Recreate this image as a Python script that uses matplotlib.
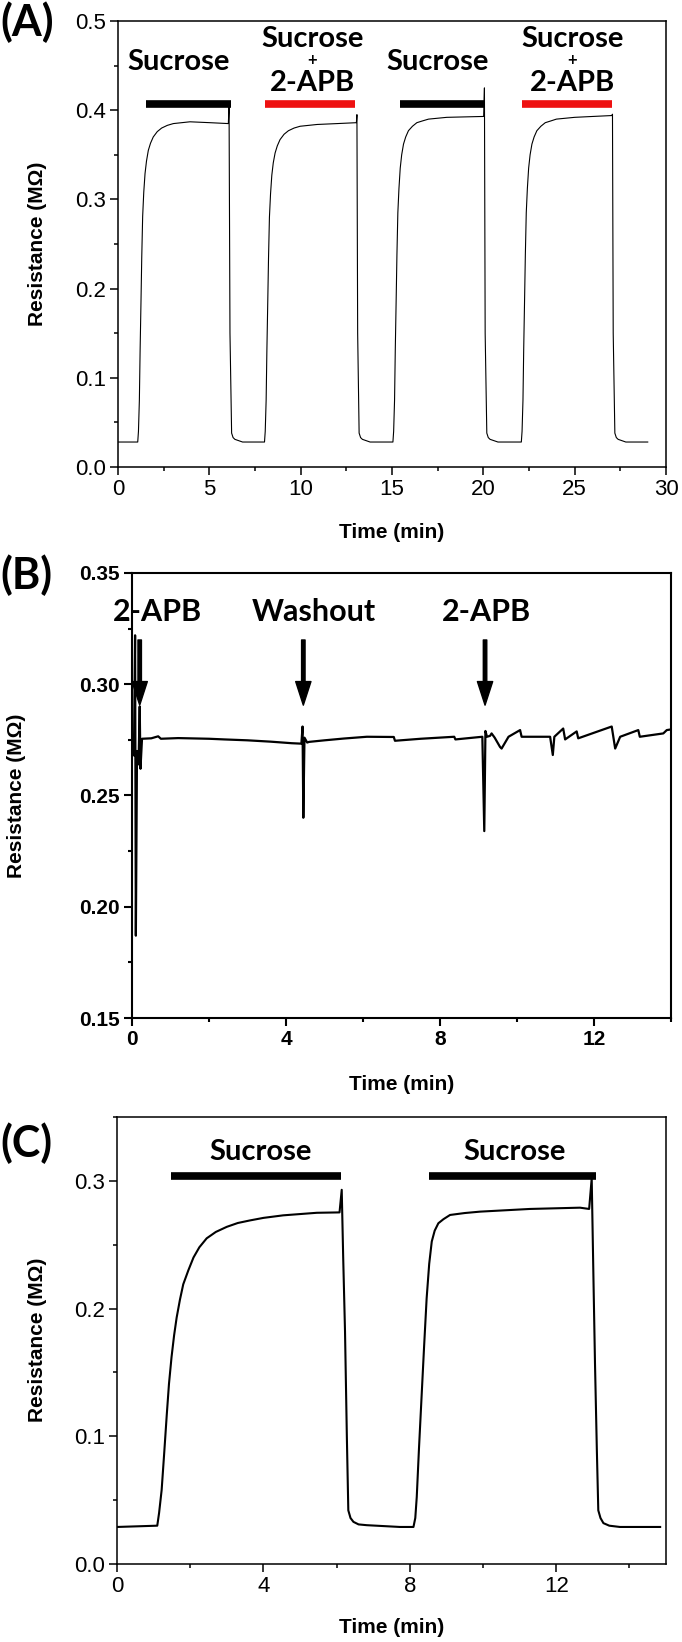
import matplotlib
matplotlib.use('Agg')
import matplotlib.pyplot as plt
from matplotlib.ticker import MultipleLocator, FormatStrFormatter

# ---- Panel A: four pulses, sucrose / sucrose + 2-APB ----
a_time = [0.0, 1.08, 1.12, 1.17, 1.21, 1.26, 1.30, 1.35, 1.41, 1.48, 1.56, 1.66, 1.78, 1.93,
          2.15, 2.39, 2.70, 3.03, 3.94, 5.04, 6.04,
          6.08, 6.13, 6.22, 6.30, 6.40, 6.82, 8.02,
          8.06, 8.11, 8.15, 8.20, 8.24, 8.29, 8.35, 8.42, 8.50, 8.60, 8.72, 8.87,
          9.09, 9.33, 9.64, 9.97, 10.9, 12.0, 13.05,
          13.08, 13.12, 13.20, 13.28, 13.38, 13.8, 15.05,
          15.09, 15.14, 15.18, 15.23, 15.27, 15.32, 15.38, 15.45, 15.53, 15.63, 15.75, 15.9,
          16.12, 16.36, 16.67, 17.0, 18.0, 19.0, 20.02,
          20.06, 20.10, 20.19, 20.27, 20.37, 20.8, 22.08,
          22.12, 22.17, 22.21, 22.26, 22.30, 22.35, 22.41, 22.48, 22.56, 22.66, 22.78, 22.93,
          23.15, 23.39, 23.70, 24.0, 25.0, 26.0, 27.03,
          27.07, 27.11, 27.20, 27.28, 27.38, 27.8, 29.0]
a_res = [0.028, 0.028, 0.040, 0.075, 0.130, 0.187, 0.235, 0.281, 0.308, 0.329, 0.343, 0.355,
         0.363, 0.370, 0.376, 0.380, 0.383, 0.385, 0.387, 0.386, 0.385,
         0.404, 0.150, 0.038, 0.033, 0.031, 0.028, 0.028,
         0.040, 0.075, 0.130, 0.187, 0.234, 0.280, 0.306, 0.327, 0.341, 0.352, 0.360, 0.367,
         0.373, 0.377, 0.380, 0.382, 0.384, 0.385, 0.386,
         0.395, 0.150, 0.038, 0.033, 0.031, 0.028, 0.028,
         0.040, 0.075, 0.132, 0.190, 0.238, 0.285, 0.312, 0.335, 0.350, 0.362, 0.370, 0.377,
         0.382, 0.386, 0.388, 0.390, 0.392, 0.3925, 0.393,
         0.425, 0.150, 0.038, 0.033, 0.031, 0.028, 0.028,
         0.040, 0.075, 0.132, 0.190, 0.238, 0.285, 0.312, 0.335, 0.350, 0.362, 0.370, 0.377,
         0.382, 0.386, 0.388, 0.390, 0.392, 0.393, 0.394,
         0.3955, 0.150, 0.038, 0.033, 0.031, 0.028, 0.028]
a_bar_start = [1.53, 8.04, 15.44, 22.09]
a_bar_end = [6.19, 12.97, 20.06, 27.02]
a_bar_color = ['black', '#ee1111', 'black', '#ee1111']
a_label_x = [3.3, 10.65, 17.52, 24.86]
a_label_two_line = [False, True, False, True]

# ---- Panel B: 2-APB / washout ----
b_time = [0.00, 0.05, 0.08, 0.10, 0.13, 0.17, 0.20, 0.22, 0.26, 0.5, 0.68, 0.75, 1.2, 2.0, 2.4,
          3.0, 3.6, 4.15, 4.40, 4.43, 4.45, 4.48, 4.55, 4.6, 5.0, 5.5, 6.1, 6.8, 6.83, 7.5,
          8.37, 8.40, 9.1, 9.15, 9.18, 9.22, 9.30, 9.34, 9.42, 9.56, 9.60, 9.78, 10.08, 10.12,
          10.86, 10.93, 10.97, 11.2, 11.25, 11.55, 11.59, 12.46, 12.55, 12.68, 13.15, 13.19,
          13.8, 13.89, 14.0]
b_res = [0.270, 0.268, 0.322, 0.187, 0.270, 0.264, 0.290, 0.262, 0.2755, 0.2757, 0.2766, 0.2755,
         0.2758, 0.2755, 0.2752, 0.2748, 0.2742, 0.2735, 0.2733, 0.281, 0.240, 0.276, 0.2738,
         0.2741, 0.2748, 0.2756, 0.2764, 0.2763, 0.2746, 0.2755, 0.2764, 0.2752, 0.2764, 0.234,
         0.279, 0.2764, 0.2768, 0.2779, 0.2760, 0.2718, 0.2711, 0.2764, 0.2794, 0.2764,
         0.2764, 0.2682, 0.2764, 0.2801, 0.2752, 0.2788, 0.2757, 0.2810, 0.2711, 0.2764,
         0.2794, 0.2764, 0.2779, 0.2794, 0.2797]
b_arrow_x = [0.20, 4.45, 9.17]
b_label_x = [0.65, 4.73, 9.2]
b_labels = ['2-APB', 'Washout', '2-APB']

# ---- Panel C: two sucrose pulses ----
c_time = [0.0, 1.10, 1.15, 1.22, 1.29, 1.36, 1.42, 1.49, 1.56, 1.63, 1.72, 1.81, 1.95, 2.09,
          2.25, 2.45, 2.70, 3.0, 3.3, 3.63, 4.0, 4.54, 5.0, 5.46, 6.08,
          6.14, 6.18, 6.23, 6.28, 6.32, 6.38, 6.46, 6.60, 6.82, 7.73, 8.10,
          8.15, 8.19, 8.25, 8.32, 8.39, 8.46, 8.53, 8.60, 8.68, 8.78, 8.92, 9.10, 9.5, 9.92,
          11.28, 12.65, 12.90,
          12.97, 13.02, 13.06, 13.11, 13.15, 13.21, 13.29, 13.45, 13.74, 14.84]
c_res = [0.029, 0.030, 0.040, 0.058, 0.087, 0.117, 0.141, 0.162, 0.179, 0.193, 0.207, 0.219,
         0.230, 0.240, 0.248, 0.255, 0.260, 0.264, 0.267, 0.269, 0.271, 0.273, 0.274, 0.275,
         0.2753,
         0.293, 0.240, 0.182, 0.100, 0.042, 0.036, 0.033, 0.031, 0.0304, 0.029, 0.029,
         0.036, 0.0525, 0.090, 0.130, 0.170, 0.208, 0.235, 0.2525, 0.261, 0.2668, 0.270,
         0.2733, 0.2748, 0.2759, 0.278, 0.279, 0.278,
         0.302, 0.220, 0.157, 0.090, 0.042, 0.036, 0.032, 0.030, 0.029, 0.029]
c_bar_start = [1.47, 8.53]
c_bar_end = [6.12, 13.09]
c_label_x = [3.91, 10.87]

W, H = 682, 1642
fig = plt.figure(figsize=(W / 100, H / 100), dpi=100)

tick_font = ['Liberation Sans Narrow', 'Liberation Sans', 'DejaVu Sans']
lab_font = ['Liberation Sans', 'DejaVu Sans']
note_font = ['Lato', 'DejaVu Sans']


def rect(l, t, r, b):
    return [l / W, 1 - b / H, (r - l) / W, (b - t) / H]


def style_axes(ax, bold=False, lw=1.1, size=16):
    for s in ax.spines.values():
        s.set_linewidth(lw)
    ax.tick_params(which='both', direction='out', top=False, right=False, width=lw)
    ax.tick_params(which='major', length=5.5, labelsize=size, pad=3)
    ax.tick_params(which='minor', length=3)
    for lab in ax.get_xticklabels() + ax.get_yticklabels():
        lab.set_family(tick_font)
        if bold:
            lab.set_fontweight('bold')


def axis_text(yc, xl, label_x, xlab_y, letter, letter_y):
    fig.text(label_x / W, 1 - yc / H, 'Resistance (M\u03a9)', rotation=90, ha='center',
             va='center', fontsize=15, fontweight='bold', family=lab_font)
    fig.text(xl / W, 1 - xlab_y / H, 'Time (min)', ha='center', va='center',
             fontsize=15, fontweight='bold', family=lab_font)
    fig.text(0, 1 - letter_y / H, letter, ha='left', va='center', fontsize=31,
             fontweight='bold', family=note_font)


# Panel A
axA = fig.add_axes(rect(118, 21, 666, 467))
axA.plot(a_time, a_res, color='black', lw=0.8)
for s, e, c in zip(a_bar_start, a_bar_end, a_bar_color):
    axA.plot([s, e], [0.4066, 0.4066], color=c, lw=5.5, solid_capstyle='butt')
for x, two in zip(a_label_x, a_label_two_line):
    if two:
        axA.text(x, 0.4798, 'Sucrose', ha='center', va='center', fontsize=21,
                 fontweight='bold', family=note_font)
        axA.text(x, 0.4563, '+', ha='center', va='center', fontsize=12,
                 fontweight='bold', family=note_font)
        axA.text(x, 0.4301, '2-APB', ha='center', va='center', fontsize=21,
                 fontweight='bold', family=note_font)
    else:
        axA.text(x, 0.4544, 'Sucrose', ha='center', va='center', fontsize=21,
                 fontweight='bold', family=note_font)
axA.set_xlim(0, 30)
axA.set_ylim(0, 0.5)
axA.xaxis.set_major_locator(MultipleLocator(5))
axA.xaxis.set_minor_locator(MultipleLocator(2.5))
axA.yaxis.set_major_locator(MultipleLocator(0.1))
axA.yaxis.set_minor_locator(MultipleLocator(0.05))
axA.yaxis.set_major_formatter(FormatStrFormatter('%.1f'))
style_axes(axA)
axis_text(244, 392, 38, 532, '(A)', 22)

# Panel B
axB = fig.add_axes(rect(132, 573, 671, 1018))
axB.plot(b_time, b_res, color='black', lw=1.6)
for x in b_arrow_x:
    axB.annotate('', xy=(x, 0.2906), xytext=(x, 0.3199),
                 arrowprops=dict(facecolor='black', edgecolor='black', width=2.5,
                                 headwidth=11, headlength=17, shrink=0))
for x, t in zip(b_label_x, b_labels):
    axB.text(x, 0.3325, t, ha='center', va='center', fontsize=22,
             fontweight='bold', family=note_font)
axB.set_xlim(0, 14)
axB.set_ylim(0.15, 0.35)
axB.xaxis.set_major_locator(MultipleLocator(4))
axB.xaxis.set_minor_locator(MultipleLocator(2))
axB.yaxis.set_major_locator(MultipleLocator(0.05))
axB.yaxis.set_minor_locator(MultipleLocator(0.025))
axB.yaxis.set_major_formatter(FormatStrFormatter('%.2f'))
style_axes(axB, bold=True, lw=1.5, size=15)
axis_text(796, 402, 17, 1084, '(B)', 575)

# Panel C
axC = fig.add_axes(rect(117, 1117, 666, 1564))
axC.plot(c_time, c_res, color='black', lw=1.5)
for s, e in zip(c_bar_start, c_bar_end):
    axC.plot([s, e], [0.3035, 0.3035], color='black', lw=5.5, solid_capstyle='butt')
for x in c_label_x:
    axC.text(x, 0.3227, 'Sucrose', ha='center', va='center', fontsize=21,
             fontweight='bold', family=note_font)
axC.set_xlim(0, 15)
axC.set_ylim(0, 0.35)
axC.xaxis.set_major_locator(MultipleLocator(4))
axC.xaxis.set_minor_locator(MultipleLocator(2))
axC.yaxis.set_major_locator(MultipleLocator(0.1))
axC.yaxis.set_minor_locator(MultipleLocator(0.05))
axC.yaxis.set_major_formatter(FormatStrFormatter('%.1f'))
style_axes(axC)
axis_text(1340, 392, 38, 1627, '(C)', 1143)

fig.savefig('out.png', dpi=100)
